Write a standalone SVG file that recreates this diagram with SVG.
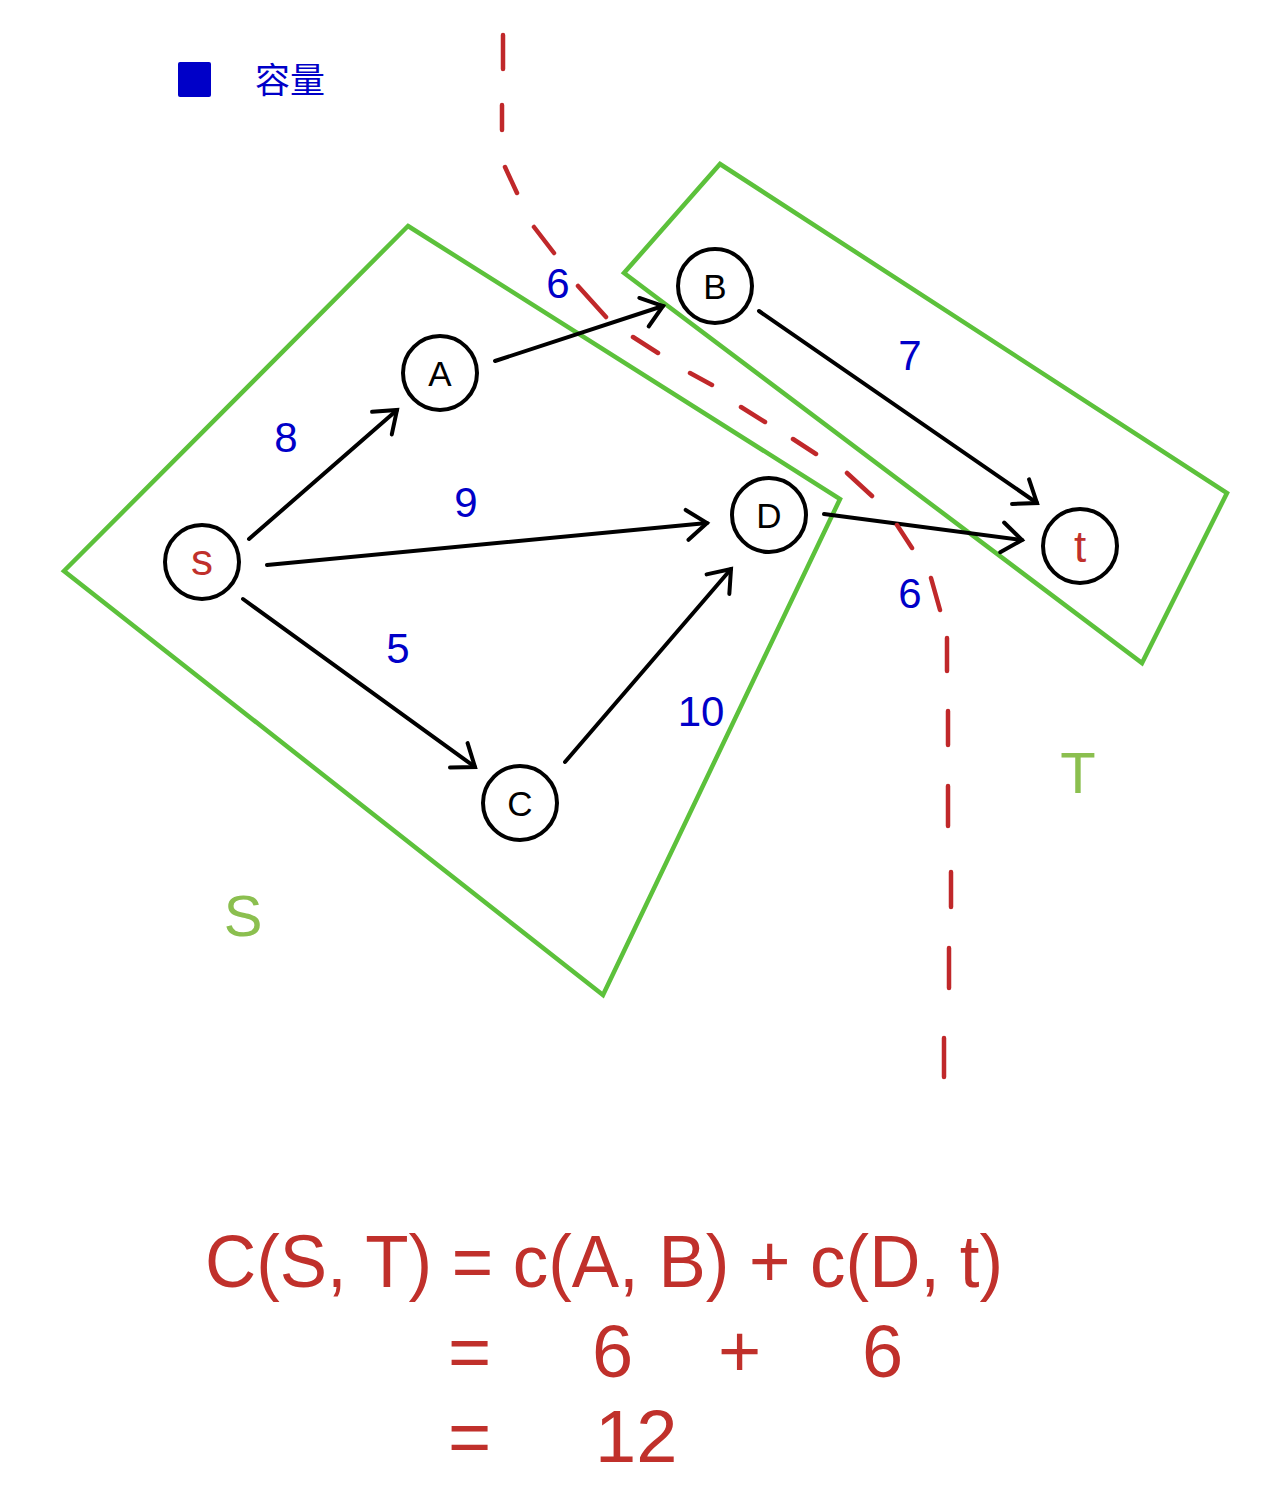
<svg xmlns="http://www.w3.org/2000/svg" width="1274" height="1511" viewBox="0 0 1274 1511">
  <style>
    .node circle { fill: #ffffff; stroke: #000000; stroke-width: 4; }
    .nlabel { font-family: "Liberation Sans", Arial, sans-serif; font-size: 35px; fill: #000000; text-anchor: middle; }
    .nred { font-family: "Liberation Sans", Arial, sans-serif; font-size: 44px; fill: #C0302B; text-anchor: middle; }
    .edge { stroke: #000000; stroke-width: 4; fill: none; stroke-linecap: round; marker-end: url(#arrow); }
    .cap { font-family: "Liberation Sans", Arial, sans-serif; font-size: 42px; fill: #0000C8; text-anchor: middle; }
    .region { fill: none; stroke: #5CC13B; stroke-width: 4.5; stroke-linejoin: miter; }
    .setlabel { font-family: "Liberation Sans", Arial, sans-serif; font-size: 58px; fill: #8BBF4F; text-anchor: middle; }
    .cut { stroke: #C0282A; stroke-width: 4.5; stroke-linecap: round; fill: none; }
    .formula { font-family: "Liberation Sans", Arial, sans-serif; font-size: 74px; fill: #C0302B; }
  </style>
  <defs>
    <marker id="arrow" markerUnits="userSpaceOnUse" viewBox="-30 -20 40 40" markerWidth="40" markerHeight="40" refX="0" refY="0" orient="auto">
      <path d="M-20,-15 L0,0 L-20,15" fill="none" stroke="#000000" stroke-width="4" stroke-linecap="round" stroke-linejoin="miter"/>
    </marker>
  </defs>

  <rect width="1274" height="1511" fill="#ffffff"/>

  <!-- legend -->
  <g id="legend">
    <rect x="178" y="62" width="33" height="35" rx="2" fill="#0000C8"/>
    <text x="255" y="93" font-family="'Liberation Sans', 'Noto Sans CJK SC', sans-serif" font-size="35" fill="#0000C8">容量</text>
  </g>

  <!-- S and T regions -->
  <g id="region-S">
    <polygon class="region" points="408,226 840,499 603,995 64,571"/>
    <text class="setlabel" x="243" y="936">S</text>
  </g>
  <g id="region-T">
    <polygon class="region" points="720,164 1227,493 1142,663 624,273"/>
    <text class="setlabel" x="1078" y="793">T</text>
  </g>

  <!-- connectors -->
  <g id="connectors">
    <line class="edge" x1="249" y1="539" x2="397" y2="410"/>
    <line class="edge" x1="267" y1="565" x2="707" y2="523"/>
    <line class="edge" x1="243" y1="599" x2="475" y2="767"/>
    <line class="edge" x1="565" y1="762" x2="731" y2="569"/>
    <line class="edge" x1="495" y1="361" x2="663" y2="306"/>
    <line class="edge" x1="759" y1="311" x2="1037" y2="503"/>
    <line class="edge" x1="824" y1="514" x2="1022" y2="540"/>
  </g>

  <!-- capacity labels -->
  <g id="capacities">
    <text class="cap" x="286" y="452">8</text>
    <text class="cap" x="466" y="517">9</text>
    <text class="cap" x="398" y="663">5</text>
    <text class="cap" x="558" y="298">6</text>
    <text class="cap" x="910" y="370">7</text>
    <text class="cap" x="701" y="726">10</text>
    <text class="cap" x="910" y="608">6</text>
  </g>

  <!-- cut line -->
  <g id="cut">
    <path class="cut" d="M503,35 L503,69 M502,105 L502,130 M505,167 L517,193 M534,227 L554,253 M578,286 L606,317 M633,337 L658,353 M690,373 L712,385 M741,407 L765,422 M793,439 L816,454 M847,473 L872,496 M897,525 L912,548 M931,578 L940,610 M947,638 L947,671 M948,711 L948,745 M948,786 L948,826 M951,872 L951,907 M949,948 L949,988 M944,1038 L944,1077"/>
  </g>

  <!-- nodes -->
  <g id="node-s" class="node">
    <circle cx="202" cy="562" r="37"/>
    <text class="nred" x="202" y="575">s</text>
  </g>
  <g id="node-A" class="node">
    <circle cx="440" cy="373" r="37"/>
    <text class="nlabel" x="440" y="386">A</text>
  </g>
  <g id="node-B" class="node">
    <circle cx="715" cy="286" r="37"/>
    <text class="nlabel" x="715" y="299">B</text>
  </g>
  <g id="node-D" class="node">
    <circle cx="769" cy="515" r="37"/>
    <text class="nlabel" x="769" y="528">D</text>
  </g>
  <g id="node-C" class="node">
    <circle cx="520" cy="803" r="37"/>
    <text class="nlabel" x="520" y="816">C</text>
  </g>
  <g id="node-t" class="node">
    <circle cx="1080" cy="546" r="37"/>
    <text class="nred" x="1080" y="562">t</text>
  </g>

  <!-- formula -->
  <g id="formula">
    <text class="formula" x="205" y="1287" textLength="798" lengthAdjust="spacingAndGlyphs">C(S, T) = c(A, B) + c(D, t)</text>
    <text class="formula" x="448" y="1377">=</text>
    <text class="formula" x="592" y="1377">6</text>
    <text class="formula" x="718" y="1377">+</text>
    <text class="formula" x="862" y="1377">6</text>
    <text class="formula" x="448" y="1462">=</text>
    <text class="formula" x="595" y="1462">12</text>
  </g>
</svg>
